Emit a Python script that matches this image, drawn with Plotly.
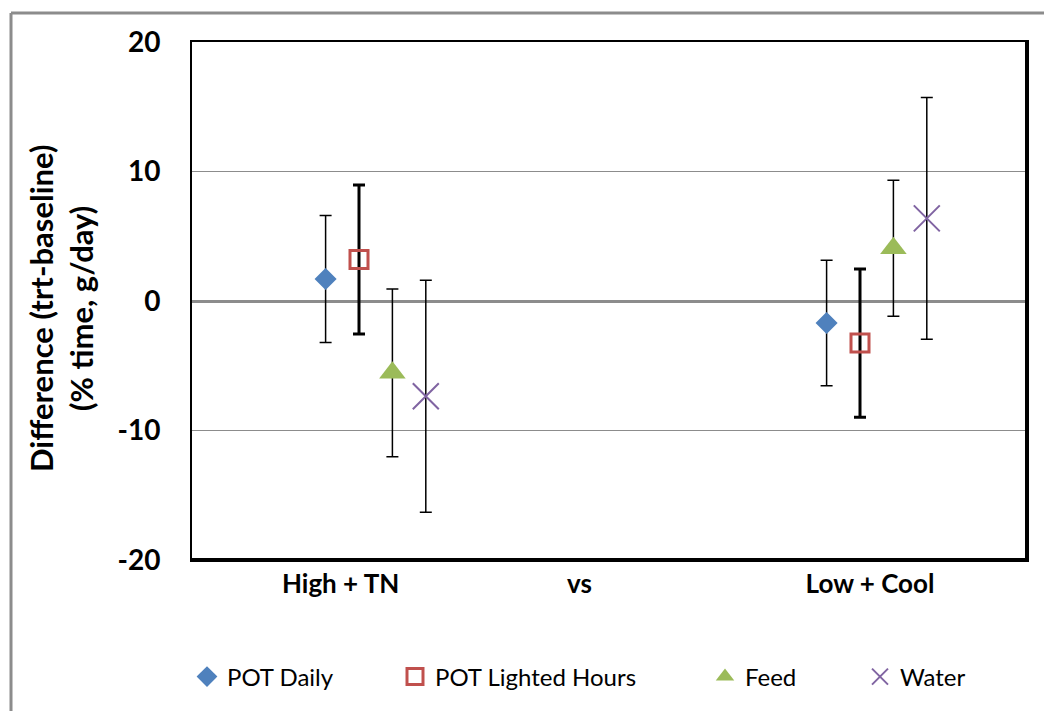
import plotly.graph_objects as go

# Treatment groups and the measured differences (trt - baseline)
groups = ["High + TN", "Low + Cool"]
axis_labels = ["High + TN", "vs", "Low + Cool"]
series_names = ["POT Daily", "POT Lighted Hours", "Feed", "Water"]
y_ticks = [-20, -10, 0, 10, 20]
y_tick_text = ["-20", "-10", "0", "10", "20"]

pot_daily = [1.7, -1.7]
pot_daily_err = [4.9, 4.85]
pot_lighted = [3.2, -3.25]
pot_lighted_err = [5.75, 5.72]
feed = [-5.55, 4.08]
feed_err = [6.48, 5.25]
water = [-7.35, 6.38]
water_err = [8.96, 9.33]

# horizontal layout of the groups on a 0..25 axis
group_centers = [5.5, 20.5]
series_offsets = [-1.5, -0.5, 0.5, 1.5]
label_positions = [4.45, 11.6, 20.3]

FONT = "Lato"

styles = [
    dict(marker=dict(symbol="diamond", size=17, color="#4F81BD",
                     line=dict(width=0)), err_w=1.5),
    dict(marker=dict(symbol="square-open", size=18, color="#C0504D",
                     line=dict(width=3, color="#C0504D")), err_w=3),
    dict(marker=dict(symbol="triangle-up", size=23, color="#9BBB59",
                     line=dict(width=0)), err_w=1.5),
    dict(marker=dict(symbol="x-thin", size=26, color="#8064A2",
                     line=dict(width=2, color="#8064A2")), err_w=1.5),
]

values = [pot_daily, pot_lighted, feed, water]
errors = [pot_daily_err, pot_lighted_err, feed_err, water_err]

# legends placed individually along the bottom (left edges in px)
legend_left_px = [187, 395, 705, 860]
PLOT_L, PLOT_R, PLOT_T, PLOT_B = 192, 1027, 42, 560
pw, ph = PLOT_R - PLOT_L, PLOT_B - PLOT_T
legend_names = ["legend", "legend2", "legend3", "legend4"]

fig = go.Figure()
for i, name in enumerate(series_names):
    xs = [c + series_offsets[i] for c in group_centers]
    fig.add_trace(go.Scatter(
        x=xs, y=values[i], mode="markers", name=name,
        marker=styles[i]["marker"],
        error_y=dict(type="data", array=errors[i], visible=True,
                     color="black", thickness=styles[i]["err_w"], width=6),
        legend=legend_names[i],
    ))

layout_legends = {}
for i, ln in enumerate(legend_names):
    layout_legends[ln] = dict(
        x=(legend_left_px[i] - PLOT_L) / pw, xanchor="left",
        y=-(677 - PLOT_B) / ph, yanchor="middle",
        orientation="h", bgcolor="rgba(0,0,0,0)",
        font=dict(family=FONT, size=24, color="black"),
    )

fig.update_layout(
    width=1044, height=711,
    margin=dict(l=PLOT_L, r=1044 - PLOT_R, t=PLOT_T, b=711 - PLOT_B),
    paper_bgcolor="white", plot_bgcolor="white",
    showlegend=True,
    **layout_legends,
)

fig.update_xaxes(
    range=[0, 25], showgrid=False, zeroline=False,
    tickmode="array", tickvals=label_positions, ticktext=axis_labels,
    ticks="", showline=True, linecolor="black", linewidth=2, mirror=True,
    tickfont=dict(family=FONT, size=26, color="black", weight="bold"),
    ticklabelstandoff=0,
)
fig.update_yaxes(
    range=[-20, 20], tickmode="array", tickvals=y_ticks, ticktext=y_tick_text,
    showgrid=True, gridcolor="#8C8C8C", gridwidth=1.3,
    zeroline=True, zerolinecolor="#8C8C8C", zerolinewidth=2.5,
    ticks="", showline=True, linecolor="black", linewidth=2, mirror=True,
    tickfont=dict(family=FONT, size=28, color="black", weight="bold"),
    ticklabelstandoff=24,
)

# y-axis title as rotated annotation
fig.add_annotation(
    text="Difference (trt-baseline)<br>(% time, g/day)",
    xref="paper", yref="paper",
    x=(61 - PLOT_L) / pw, y=(PLOT_B - 309) / ph,
    xanchor="center", yanchor="middle", textangle=-90, showarrow=False,
    font=dict(family=FONT, size=31, color="black", weight="bold"),
)

# heavier right and bottom frame edges
fig.add_shape(type="line", xref="paper", yref="paper", x0=1, x1=1, y0=0, y1=1,
              line=dict(color="black", width=4))
fig.add_shape(type="line", xref="paper", yref="paper", x0=0, x1=1, y0=0, y1=0,
              line=dict(color="black", width=4))

# outer chart border
bx = (11 - PLOT_L) / pw
by = (PLOT_B - 13) / ph
fig.add_shape(type="line", xref="paper", yref="paper", x0=bx, x1=bx,
              y0=by, y1=(PLOT_B - 720) / ph, line=dict(color="#8C8C8C", width=3))
fig.add_shape(type="line", xref="paper", yref="paper", x0=bx, x1=(1050 - PLOT_L) / pw,
              y0=by, y1=by, line=dict(color="#8C8C8C", width=3))

fig.write_html("out.html")
